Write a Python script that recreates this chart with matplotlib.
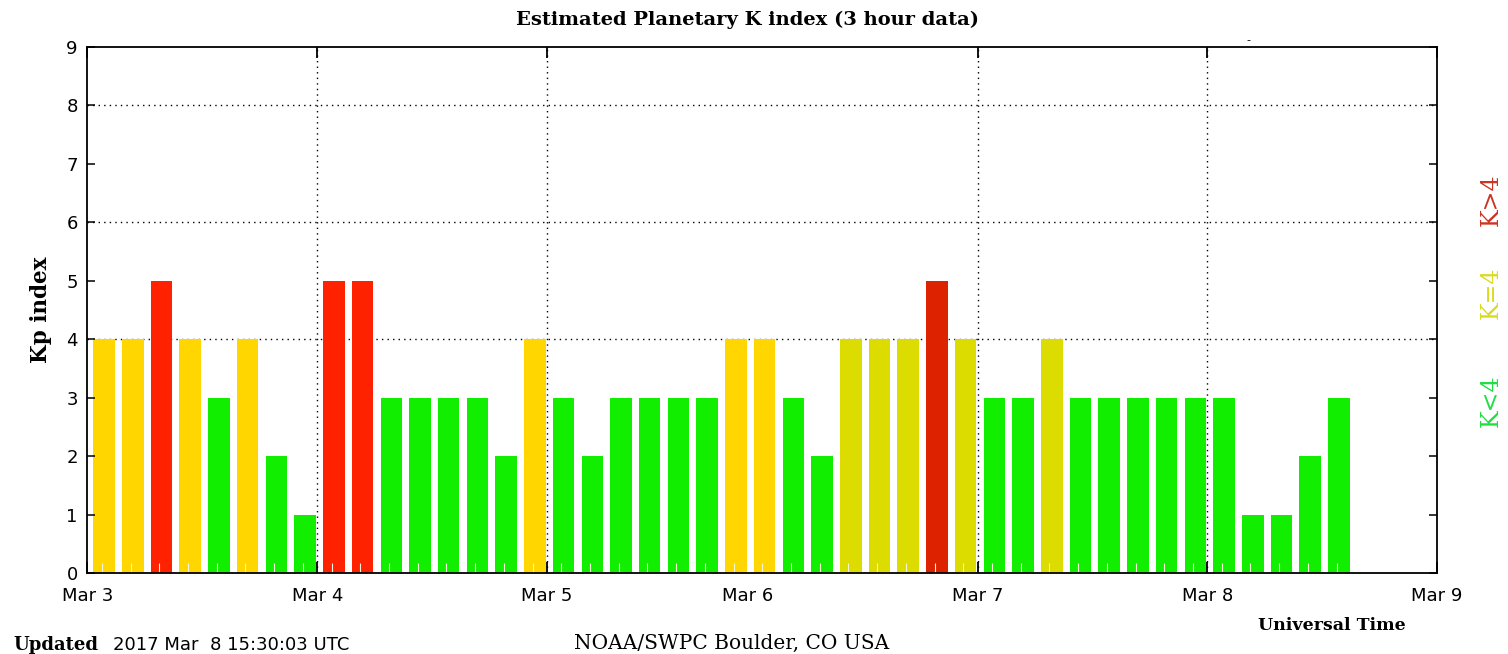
import matplotlib.pyplot as plt

# Kp values, one per 3 hour slot (slot 0 = Mar 3 00 UT)
kp = [4, 4, 5, 4, 3, 4, 2, 1,
      5, 5, 3, 3, 3, 3, 2, 4,
      3, 2, 3, 3, 3, 3, 4, 4, 3, 2, 4, 4, 4, 5, 4,
      3, 3, 4, 3, 3, 3, 3, 3,
      3, 1, 1, 2, 3]

# shade of each bar as seen in the picture
shade = ['gold', 'gold', 'red', 'gold', 'green', 'gold', 'green', 'green',
         'red', 'red', 'green', 'green', 'green', 'green', 'green', 'gold',
         'green', 'green', 'green', 'green', 'green', 'green', 'gold', 'gold',
         'green', 'green', 'olive', 'olive', 'olive', 'dred', 'olive',
         'green', 'green', 'olive', 'green', 'green', 'green', 'green', 'green',
         'green', 'green', 'green', 'green', 'green']

day_labels = ['Mar 3', 'Mar 4', 'Mar 5', 'Mar 6', 'Mar 7', 'Mar 8', 'Mar 9']
day_slots = [0, 8, 16, 23, 31, 39, 47]

palette = {'gold': '#FFD600', 'olive': '#DCDC00', 'red': '#FF2200',
           'dred': '#DD2200', 'green': '#12EE00'}

fig = plt.figure(figsize=(15.08, 6.54), dpi=100)
ax = fig.add_axes([0.058, 0.1239, 0.895, 0.8042])

slots = range(len(kp))
ax.bar([s + 0.58 for s in slots], kp, width=0.75,
       color=[palette[c] for c in shade], zorder=1)

ax.set_xlim(0, 47)
ax.set_ylim(0, 9)

# dotted grid (no line at Mar 6 in the original)
for d in day_slots[1:-1]:
    if d != 23:
        ax.axvline(d, color='black', lw=1, ls=(0, (1, 3)), zorder=0.5)
for g in [4, 6, 8]:
    ax.axhline(g, color='black', lw=1, ls=(0, (1, 3)), zorder=0.5)

ax.set_xticks(day_slots)
ax.set_xticklabels(day_labels, fontsize=13, family='DejaVu Sans')
ax.set_xticks([s + 0.5 for s in slots], minor=True)
ax.tick_params(axis='x', which='major', direction='in', length=8, width=1.3,
               top=True, pad=10)
ax.tick_params(axis='x', which='minor', direction='in', length=7, width=0.8,
               color='#f4f4d8', top=False)
ticks = ax.xaxis.get_major_ticks()
ticks[3].tick1line.set_visible(False)
ticks[3].tick2line.set_visible(False)

ax.set_yticks(range(10))
ax.tick_params(axis='y', direction='in', length=6, width=1.1, right=True,
               labelsize=13, pad=7)

for sp in ax.spines.values():
    sp.set_linewidth(1.3)

fig.text(0.496, 0.969, 'Estimated Planetary K index (3 hour data)',
         ha='center', va='center', family='DejaVu Serif', fontweight='bold',
         fontsize=14)
fig.text(0.027, 0.526, 'Kp index', rotation=90, ha='center', va='center',
         family='DejaVu Serif', fontweight='bold', fontsize=15.5)
fig.text(0.883, 0.044, 'Universal Time', ha='center', va='center',
         family='DejaVu Serif', fontweight='bold', fontsize=12.5)
fig.text(0.0086, 0.0138, 'Updated', ha='left', va='center',
         family='DejaVu Serif', fontweight='bold', fontsize=13)
fig.text(0.075, 0.0138, '2017 Mar  8 15:30:03 UTC', ha='left', va='center',
         family='DejaVu Sans', fontsize=13)
fig.text(0.485, 0.0168, 'NOAA/SWPC Boulder, CO USA', ha='center', va='center',
         family='DejaVu Serif', fontsize=14.5)
fig.text(0.828, 0.939, '-', ha='center', va='center', fontsize=8)

fig.text(0.989, 0.694, 'K>4', rotation=90, ha='center', va='center',
         family='DejaVu Serif', fontsize=17, color='#CC3322')
fig.text(0.989, 0.552, 'K=4', rotation=90, ha='center', va='center',
         family='DejaVu Serif', fontsize=17, color='#DADA20')
fig.text(0.989, 0.388, 'K<4', rotation=90, ha='center', va='center',
         family='DejaVu Serif', fontsize=17, color='#22DD44')

fig.savefig('out.png', dpi=100)
